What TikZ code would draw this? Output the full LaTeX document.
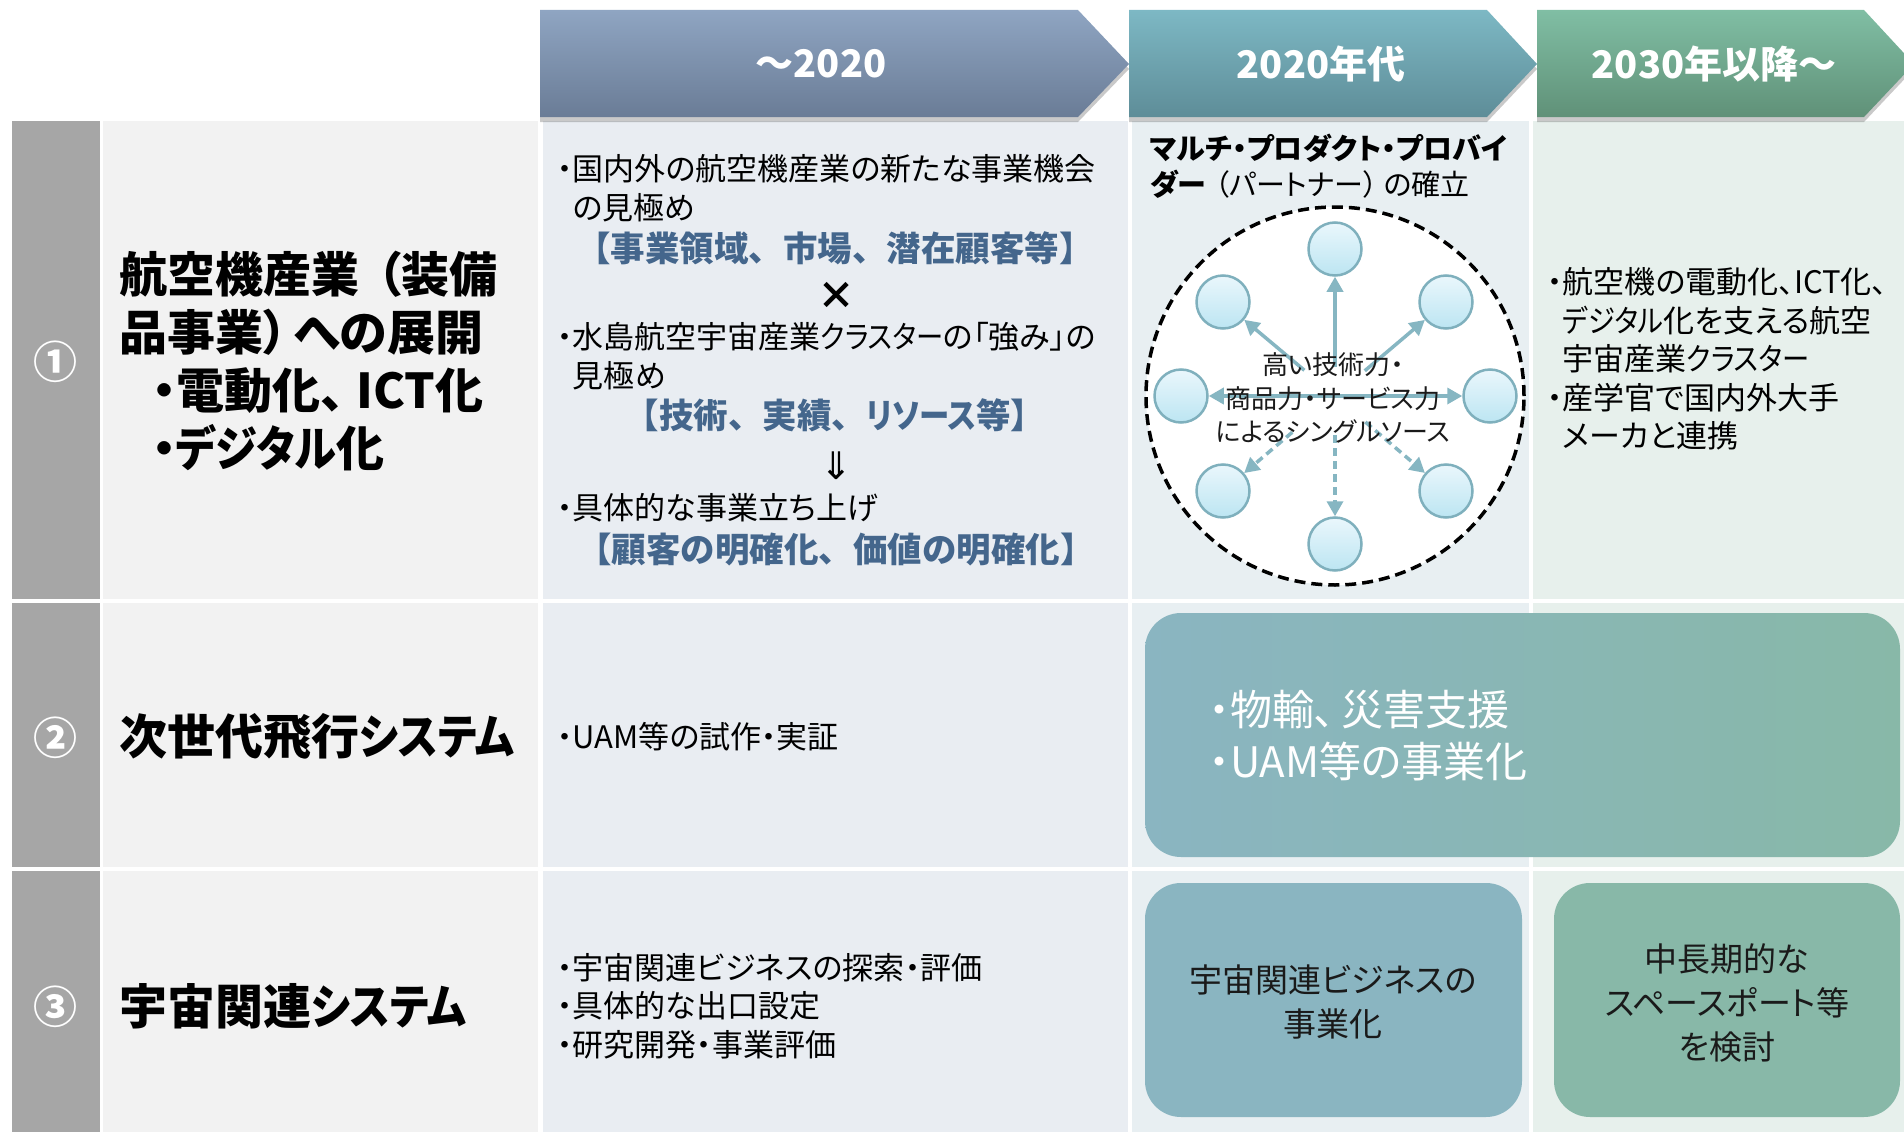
\documentclass[tikz,border=0pt]{standalone}
\usepackage{fontspec}
\setmainfont{Noto Sans CJK JP}[RawFeature={+palt}]
\newfontfamily\jpfull{Noto Sans CJK JP}
\newfontfamily\jpnarrow{Noto Sans CJK JP}[RawFeature={+palt}, FakeStretch=0.88]
\newfontfamily\dejavu{DejaVu Sans}
\usetikzlibrary{arrows.meta,shadows}
\newcommand{\myfs}[2]{\fontsize{#1}{#2}\selectfont}
\newcommand{\kn}[1]{{\jpnarrow #1}}
\definecolor{numgray}{RGB}{166,166,166}
\definecolor{labelbg}{RGB}{242,242,242}
\definecolor{colA}{RGB}{233,237,242}
\definecolor{colB}{RGB}{232,239,242}
\definecolor{colC}{RGB}{231,240,236}
\definecolor{hAtop}{RGB}{143,165,194}
\definecolor{hAbot}{RGB}{106,124,150}
\definecolor{hBtop}{RGB}{125,184,196}
\definecolor{hBbot}{RGB}{94,141,152}
\definecolor{hCtop}{RGB}{128,190,164}
\definecolor{hCbot}{RGB}{96,145,120}
\definecolor{keyblue}{RGB}{68,102,140}
\definecolor{arrowteal}{RGB}{134,182,194}
\definecolor{bubbleedge}{RGB}{127,176,189}
\definecolor{bubbletop}{RGB}{234,247,252}
\definecolor{bubblebot}{RGB}{188,229,242}
\definecolor{boxblue}{RGB}{138,181,193}
\definecolor{boxgreen}{RGB}{136,184,168}
\definecolor{textdark}{RGB}{26,26,26}
\tikzset{
  lbl/.style={inner sep=0pt, font=\bfseries\myfs{48}{58}, align=left, anchor=west},
  num/.style={inner sep=0pt, text=white, font=\bfseries\myfs{44}{44}},
  body/.style={inner sep=0pt, font=\myfs{31}{38.5}, align=left, anchor=west},
  key/.style={inner sep=0pt, font=\jpfull\bfseries\myfs{34.5}{40}, text=keyblue},
  hdr/.style={inner sep=0pt, text=white, font=\bfseries\myfs{38}{38}},
  hshadow/.style={drop shadow={shadow xshift=0pt, shadow yshift=-5pt, opacity=0.3, fill=black!70}},
  bubble/.style={circle, minimum size=53pt, inner sep=0pt, draw=bubbleedge, line width=2.5pt, top color=bubbletop, bottom color=bubblebot},
  spoke/.style={draw=arrowteal, line width=3.5pt, -{Triangle[length=15pt,width=16pt]}},
  dspoke/.style={spoke, dash pattern=on 8pt off 5pt},
  rbox/.style={rounded corners=36pt, inner sep=0pt, draw=none},
  boxtext/.style={inner sep=0pt, text=textdark, font=\myfs{33}{44}, align=center}
}
\begin{document}
\begin{tikzpicture}[x=1pt,y=-1pt]
\useasboundingbox (0,0) rectangle (1904,1132);
% ---------- backgrounds ----------
\foreach \ya/\yb in {121/599, 603/867, 871/1132}{
  \fill[numgray] (12,\ya) rectangle (100,\yb);
  \fill[labelbg] (103,\ya) rectangle (538,\yb);
  \fill[colA] (543,\ya) rectangle (1128,\yb);
  \fill[colB] (1132,\ya) rectangle (1529,\yb);
  \fill[colC] (1533,\ya) rectangle (1904,\yb);
}
% ---------- header arrows ----------
\path[hshadow, top color=hAtop, bottom color=hAbot] (540,10) -- (1078,10) -- (1129,64) -- (1078,117) -- (540,117) -- cycle;
\path[hshadow, top color=hBtop, bottom color=hBbot] (1129,10) -- (1487,10) -- (1537,64) -- (1487,117) -- (1129,117) -- cycle;
\path[hshadow, top color=hCtop, bottom color=hCbot] (1537,10) -- (1864,10) -- (1914,64) -- (1864,117) -- (1537,117) -- cycle;
\node[hdr] (h1) at (821,64) {～2020};
\node[hdr] (h2) at (1321,64) {2020年代};
\node[hdr] (h3) at (1714,64) {2030年以降～};
% ---------- row numbers and labels ----------
\node[num] (no1) at (55,362) {①};
\node[num] (no2) at (55,738) {②};
\node[num] (no3) at (55,1007) {③};
\node[lbl] (lab1) at (119,361) {航空機産業\hspace{18pt}（装備\\品事業）\hspace{6pt}への展開\\\hspace*{33pt}・電動化、\hspace{12pt}ICT化\\\hspace*{33pt}・\kn{デジタル}化};
\node[lbl] (lab2) at (119,737) {次世代飛行\kn{システム}};
\node[lbl] (lab3) at (119,1006) {宇宙関連\kn{システム}};
% ---------- column ~2020 ----------
\node[body] (a1) at (557,188) {・国内外の航空機産業の新たな事業機会\\\phantom{・}の見極め};
\node[key] (a2) at (835,248) {【事業領域、市場、潜在顧客等】};
\node[inner sep=0pt, font=\bfseries\myfs{38}{38}] (a3) at (836,296) {×};
\node[body] (a4) at (557,356) {・水島航空宇宙産業\kn{クラスター}の「強み」の\\\phantom{・}見極め};
\node[key] (a5) at (835,415) {【技術、実績、\kn{リソース}等】};
\node[inner sep=0pt, font=\dejavu\myfs{38}{38}] (a6) at (836,466) {⇓};
\node[body] (a7) at (557,508) {・具体的な事業立ち上げ};
\node[key] (a8) at (836,550) {【顧客の明確化、価値の明確化】};
\node[body] (b1) at (557,737) {・UAM等の試作・実証};
\node[body] (c1) at (557,1006) {・宇宙関連ビジネスの探索・評価\\・具体的な出口設定\\・研究開発・事業評価};
% ---------- column 2020s, row 1 ----------
\node[body, font=\myfs{29}{36}] (m1) at (1150,148) {\bfseries マルチ・プロダクト・プロバイ};
\node[body, font=\myfs{29}{36}] (m2) at (1150,184) {{\bfseries ダー}\hspace{8pt}（パートナー）\hspace{6pt}の確立};
\node[circle, draw=black, line width=3.5pt, dash pattern=on 11pt off 6pt, fill=white, minimum size=378pt, inner sep=0pt] (ring) at (1335,396) {};
\coordinate (hub) at (1335,396);
\node[bubble] (nT) at (1335,249) {};
\node[bubble] (nUL) at (1223,302) {};
\node[bubble] (nUR) at (1446,302) {};
\node[bubble] (nL) at (1181,396) {};
\node[bubble] (nR) at (1490,396) {};
\node[bubble] (nLL) at (1223,491) {};
\node[bubble] (nLR) at (1446,491) {};
\node[bubble] (nB) at (1335,544) {};
\draw[spoke, shorten <=29pt] (hub) -- (nT);
\draw[spoke, shorten <=40pt] (hub) -- (nUL);
\draw[spoke, shorten <=39pt] (hub) -- (nUR);
\draw[spoke] (hub) -- (nL);
\draw[spoke] (hub) -- (nR);
\draw[dspoke, shorten <=56pt] (hub) -- (nLL);
\draw[dspoke, shorten <=39pt] (hub) -- (nB);
\draw[dspoke, shorten <=40pt] (hub) -- (nLR);
\node[inner sep=0pt, font=\myfs{26}{33.5}, align=center, text=textdark] (core) at (1333,398) {高い技術力・\\商品力・サービス力\\によるシングルソース};
% ---------- column 2030, row 1 ----------
\node[body] (d1) at (1547,359) {・航空機の電動化、ICT化、\\\phantom{・}\kn{デジタル}化を支える航空\\\phantom{・}宇宙産業\kn{クラスター}\\・産学官で国内外大手\\\phantom{・}メーカと連携};
% ---------- rounded boxes ----------
\node[rbox, minimum width=755pt, minimum height=244pt, left color=boxblue, right color=boxgreen] (uambox) at (1522.5,735) {};
\node[inner sep=0pt, text=white, font=\myfs{42}{52}, align=left, anchor=west] (uamtxt) at (1209,736) {・物輸、\hspace{6pt}災害支援\\・UAM等の事業化};
\node[rbox, minimum width=377pt, minimum height=234pt, fill=boxblue] (spbox) at (1333.5,1000) {};
\node[boxtext] (sptxt) at (1333,1002) {宇宙関連ビジネスの\\事業化};
\node[rbox, minimum width=346pt, minimum height=234pt, fill=boxgreen] (portbox) at (1727,1000) {};
\node[boxtext] (porttxt) at (1727,1003) {中長期的な\\スペースポート等\\を検討};
\end{tikzpicture}
\end{document}
